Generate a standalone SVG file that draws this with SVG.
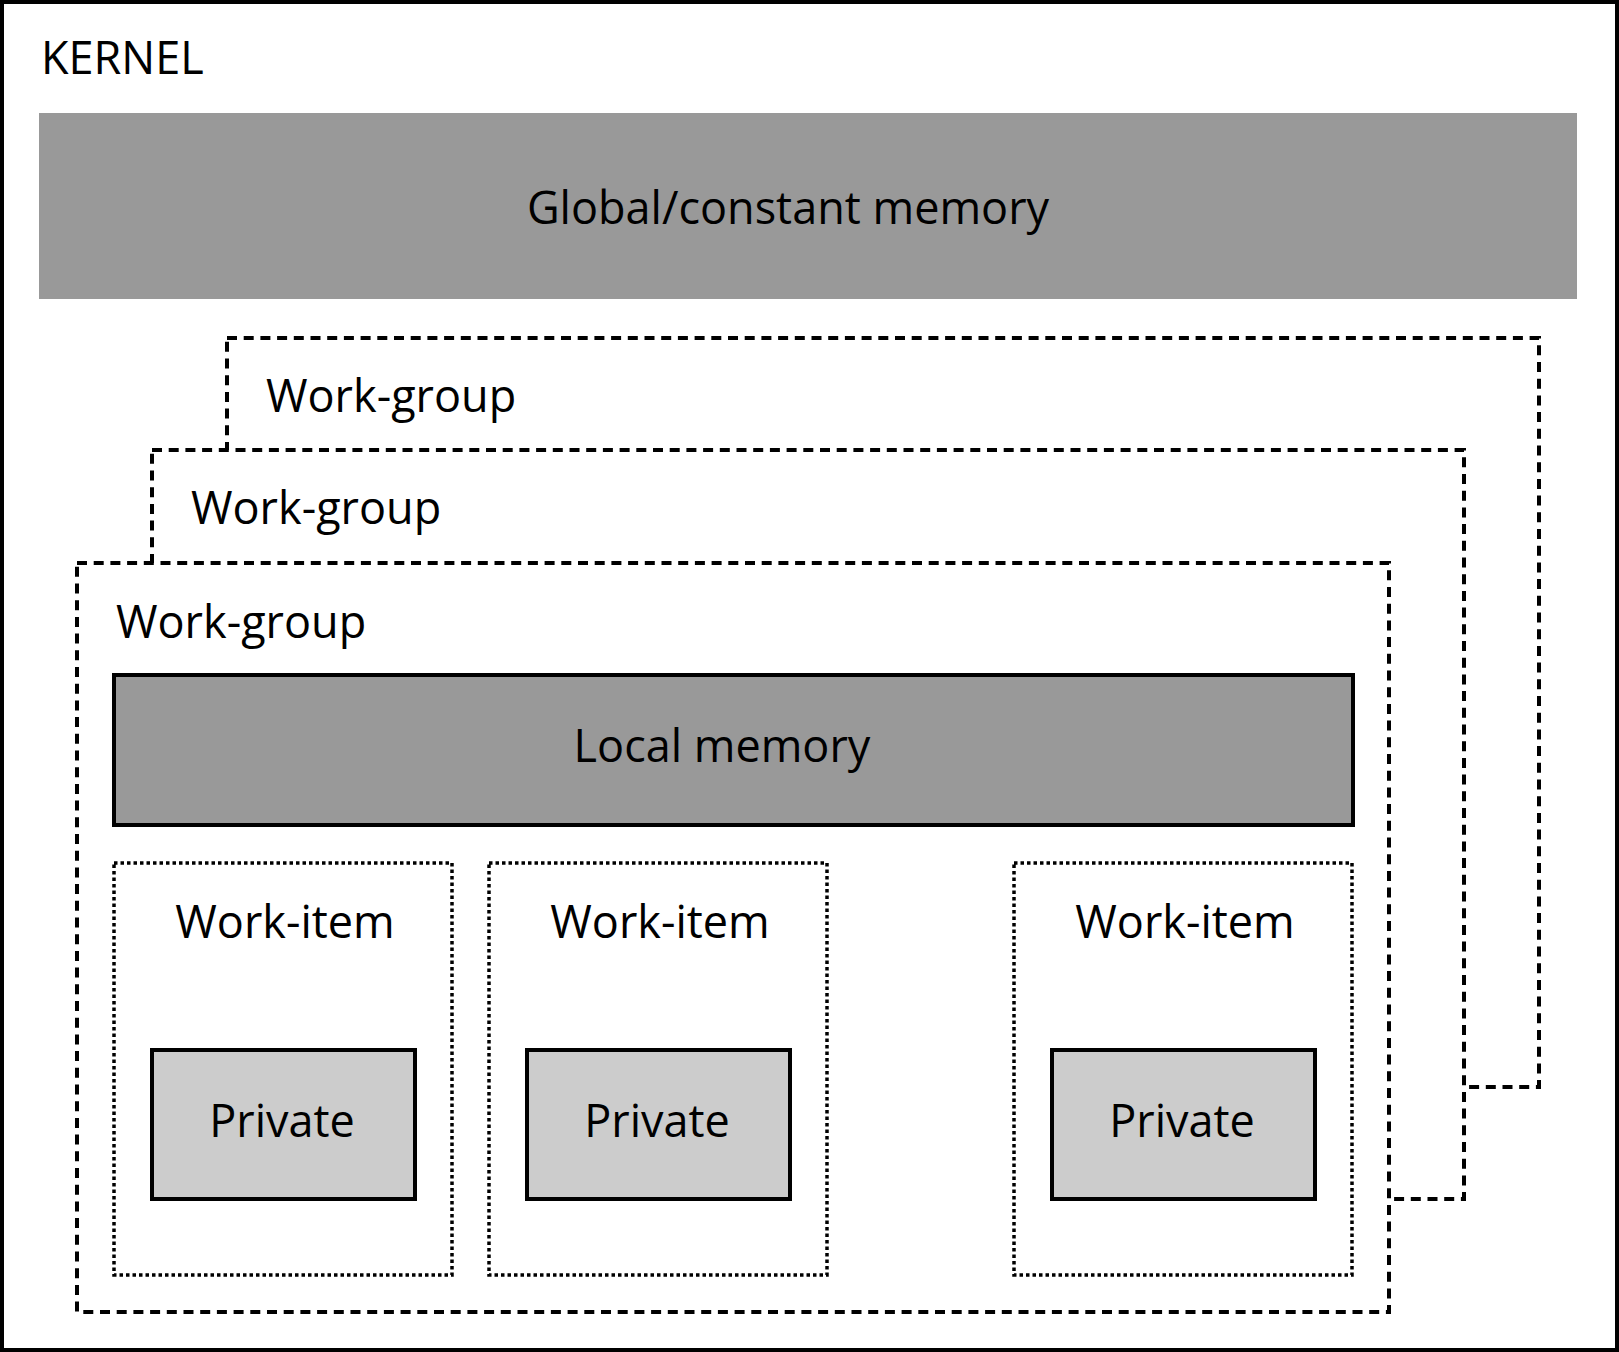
<svg xmlns="http://www.w3.org/2000/svg" width="1619" height="1352" viewBox="0 0 1619 1352">
<style>
text{font-family:"Open Sans","Noto Sans","DejaVu Sans",sans-serif;fill:#000;font-size:45px}
.wg{fill:#fff;stroke:#000;stroke-width:4;stroke-dasharray:10 6.7}
.wi{fill:#fff;stroke:#000;stroke-width:3.5;stroke-dasharray:3.5 3}
.mem{fill:#999999}
.lm{fill:#999999;stroke:#000;stroke-width:4}
.pv{fill:#cccccc;stroke:#000;stroke-width:4}
.c{text-anchor:middle}
</style>
<g id="kernel">
<rect x="2" y="2" width="1615" height="1348" fill="#fff" stroke="#000" stroke-width="4"/>
<text x="41" y="74" font-size="44">KERNEL</text>
</g>
<g id="global-memory">
<rect class="mem" x="39" y="113" width="1538" height="186"/>
<text class="c" x="788" y="224">Global/constant memory</text>
</g>
<g id="workgroup-back">
<rect class="wg" x="227" y="338" width="1312" height="749"/>
<text x="266" y="412">Work-group</text>
</g>
<g id="workgroup-middle">
<rect class="wg" x="152" y="450" width="1312" height="749"/>
<text x="191" y="524">Work-group</text>
</g>
<g id="workgroup-front">
<rect class="wg" x="77" y="563" width="1312" height="749"/>
<text x="116" y="638">Work-group</text>
</g>
<g id="local-memory">
<rect class="lm" x="114" y="675" width="1239" height="150"/>
<text class="c" x="722" y="762">Local memory</text>
</g>
<g id="workitem-1">
<rect class="wi" x="114" y="863" width="338" height="412"/>
<text class="c" x="285" y="938">Work-item</text>
</g>
<g id="private-1">
<rect class="pv" x="152" y="1050" width="263" height="149"/>
<text class="c" x="282" y="1137">Private</text>
</g>
<g id="workitem-2">
<rect class="wi" x="489" y="863" width="338" height="412"/>
<text class="c" x="660" y="938">Work-item</text>
</g>
<g id="private-2">
<rect class="pv" x="527" y="1050" width="263" height="149"/>
<text class="c" x="657" y="1137">Private</text>
</g>
<g id="workitem-3">
<rect class="wi" x="1014" y="863" width="338" height="412"/>
<text class="c" x="1185" y="938">Work-item</text>
</g>
<g id="private-3">
<rect class="pv" x="1052" y="1050" width="263" height="149"/>
<text class="c" x="1182" y="1137">Private</text>
</g>
<g id="connectors"></g>
</svg>
